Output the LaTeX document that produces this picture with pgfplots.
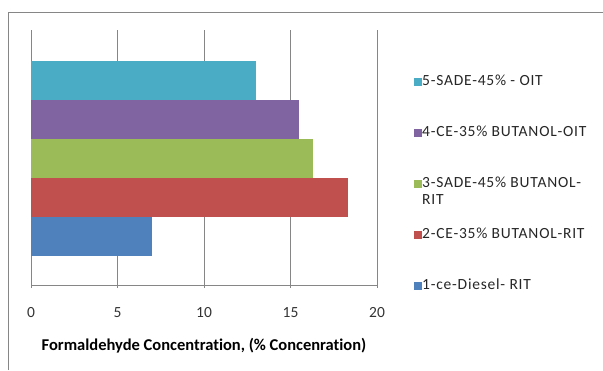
\documentclass[border=0pt]{standalone}
\usepackage{pgfplots}
\pgfplotsset{compat=1.18}
\usepackage{fontspec}
\setmainfont{Carlito}[Ligatures=NoCommon]
\newfontfamily\legendfont{Carlito}[Ligatures=NoCommon, LetterSpace=5]

\definecolor{gridgray}{HTML}{868686}
\definecolor{cBlue}{HTML}{4F81BD}
\definecolor{cRed}{HTML}{C0504D}
\definecolor{cGreen}{HTML}{9BBB59}
\definecolor{cPurple}{HTML}{8064A2}
\definecolor{cCyan}{HTML}{4BACC6}

\begin{document}
\begin{tikzpicture}
\path[use as bounding box] (0,0) rectangle (603pt,-370pt);
% outer chart frame (top and left edges)
\draw[gridgray, line width=1pt] (8pt,-370pt) -- (8pt,-12.5pt) -- (603pt,-12.5pt);

\begin{axis}[
  at={(31pt,-285pt)}, anchor=south west,
  scale only axis, width=346pt, height=255pt,
  xbar, bar shift=0pt, bar width=1,
  xmin=0, xmax=20, ymin=-1.244, ymax=5.295,
  xtick={0,5,10,15,20},
  ytick=\empty,
  axis x line*=bottom, axis y line=none,
  x axis line style={gridgray, line width=0.8pt, -},
  xmajorgrids, major grid style={gridgray, line width=0.8pt},
  tick align=outside, major tick length=3pt,
  xtick style={gridgray, line width=0.8pt},
  xticklabel style={font=\fontsize{15.5pt}{18pt}\selectfont, yshift=-16pt, text=black!80},
  /pgf/number format/assume math mode=true,
  xlabel={\textbf{Formaldehyde Concentration, (\% Concenration)}},
  xlabel style={font=\fontsize{16.5pt}{19pt}\selectfont, yshift=-14pt},
  legend cell align=left,
  legend image code/.code={\fill[#1, draw=none] (0pt,-4pt) rectangle (8pt,4pt);},
  legend style={draw=none, fill=none, at={(rel axis cs:1.107,0.825)}, anchor=north west,
    inner sep=0pt, row sep=37pt, font=\legendfont\fontsize{15.5pt}{18pt}\selectfont,
    nodes={inner sep=0pt, text height=11pt, text depth=3pt, text=black!85},
    /tikz/every even column/.append style={column sep=5pt}},
]
\addplot[fill=cCyan, draw=none] coordinates {(13.0,4)};
\addlegendentry{5-SADE-45\% - OIT}
\addplot[fill=cPurple, draw=none] coordinates {(15.5,3)};
\addlegendentry{4-CE-35\% BUTANOL-OIT}
\addplot[fill=cGreen, draw=none] coordinates {(16.3,2)};
\addlegendentry{\makebox[0pt][l]{\raisebox{-17pt}[0pt][0pt]{RIT}}3-SADE-45\% BUTANOL-}
\addplot[fill=cRed, draw=none] coordinates {(18.3,1)};
\addlegendentry{2-CE-35\% BUTANOL-RIT}
\addplot[fill=cBlue, draw=none] coordinates {(7.0,0)};
\addlegendentry{1-ce-Diesel- RIT}
\end{axis}
\end{tikzpicture}
\end{document}
